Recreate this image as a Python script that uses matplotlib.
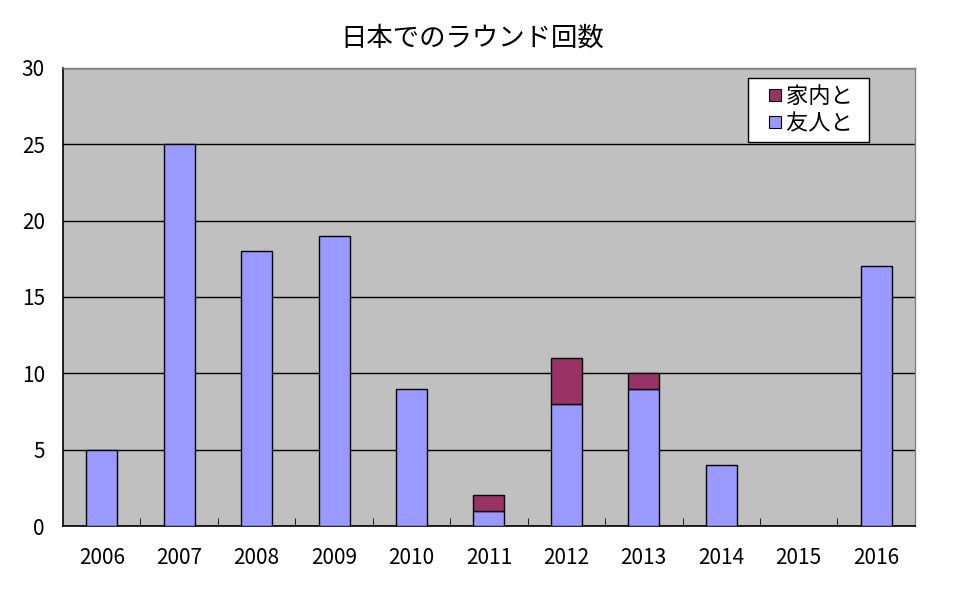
import matplotlib
matplotlib.use("Agg")
import matplotlib.pyplot as plt
from matplotlib.patches import Patch, Rectangle
from matplotlib.legend_handler import HandlerPatch
import numpy as np

plt.rcParams['font.family'] = ['Noto Sans CJK JP', 'DejaVu Sans']

years = ["2006", "2007", "2008", "2009", "2010", "2011", "2012", "2013", "2014", "2015", "2016"]
friends = [5, 25, 18, 19, 9, 1, 8, 9, 4, 0, 17]
family = [0, 0, 0, 0, 0, 1, 3, 1, 0, 0, 0]
title = "日本でのラウンド回数"
label_friends = "友人と"
label_family = "家内と"

c_friends = "#9999FF"
c_family = "#993366"
background_plot = "#C0C0C0"


def small_square(legend, orig_handle, xdescent, ydescent, width, height, fontsize):
    # Excel-style small square key, sitting at the right end of the handle box
    s = fontsize * 0.55
    return Rectangle((-xdescent + width - s, -ydescent + (height - s) / 2), s, s)


fig = plt.figure(figsize=(9.62, 5.96), dpi=100)
ax = fig.add_axes([0.0655, 0.1174, 0.8855, 0.7686])
ax.set_facecolor(background_plot)

x = np.arange(len(years))
ax.bar(x, friends, width=0.4, color=c_friends, edgecolor="black", linewidth=1, zorder=3)
ax.bar(x, family, width=0.4, bottom=friends, color=c_family, edgecolor="black", linewidth=1, zorder=3)
# zero-height segments have no visible bar in the original
for patch, v in zip(ax.patches[len(years):], family):
    if v == 0:
        patch.set_visible(False)
for patch, v in zip(ax.patches[:len(years)], friends):
    if v == 0:
        patch.set_visible(False)

ax.set_xlim(-0.5, len(years) - 0.5)
ax.set_ylim(0, 30)
ax.set_yticks(range(0, 31, 5))
ax.yaxis.grid(True, color="black", lw=1, zorder=1)
ax.set_axisbelow(True)

ax.set_xticks(x)
ax.set_xticklabels(years)
ax.set_xticks(np.arange(0.5, len(years) - 0.5, 1), minor=True)
ax.tick_params(axis="x", which="major", length=0, pad=15, labelsize=15)
ax.tick_params(axis="x", which="minor", length=6, direction="in", color="black")
ax.tick_params(axis="y", length=0, pad=13, labelsize=15)

for s in ["top", "right"]:
    ax.spines[s].set_color("gray")
    ax.spines[s].set_linewidth(1)
for s in ["left", "bottom"]:
    ax.spines[s].set_color("black")
    ax.spines[s].set_linewidth(1.2)

ax.set_title(title, fontsize=19, pad=16, x=0.48)

handles = [Patch(facecolor=c_family, edgecolor="black", lw=0.8),
           Patch(facecolor=c_friends, edgecolor="black", lw=0.8)]
leg = ax.legend(handles, [label_family + "  ", label_friends + "  "], loc="upper left",
                bbox_to_anchor=(0.804, 0.978), fancybox=False, framealpha=1,
                edgecolor="black", fontsize=16, handlelength=1.2, handleheight=0.6,
                handletextpad=0.2, borderpad=0.3, labelspacing=0.2, borderaxespad=0,
                handler_map={Patch: HandlerPatch(patch_func=small_square)})
leg.get_frame().set_linewidth(1)

fig.savefig("out.png", dpi=100, facecolor="white")
